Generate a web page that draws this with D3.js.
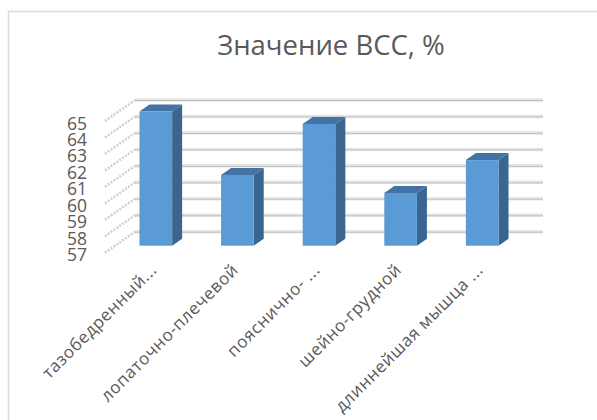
<!DOCTYPE html>
<html>
<head>
<meta charset="utf-8">
<script src="https://cdn.jsdelivr.net/npm/d3@7"></script>
<style>
  html, body { margin: 0; padding: 0; background: #fff; }
  svg { display: block; }
  text { font-family: "Open Sans", "Noto Sans", sans-serif; fill: #595959; }
</style>
</head>
<body>
<svg id="chart" width="597" height="420"></svg>
<script>
// Data
const categories = ["тазобедренный...", "лопаточно-плечевой", "пояснично- ...", "шейно-грудной", "длиннейшая мышца ..."];
const values = [65.15, 61.3, 64.4, 60.2, 62.2];
const yTicks = [57, 58, 59, 60, 61, 62, 63, 64, 65];
const title = "Значение ВСС, %";

const svg = d3.select("#chart");

// Chart frame
svg.append("rect")
  .attr("x", 8.5).attr("y", 11.5)
  .attr("width", 620).attr("height", 440)
  .attr("fill", "#fff").attr("stroke", "#d9d9d9").attr("stroke-width", 1.5);

// 3D geometry: front plane plus depth offset
const DX = 30, DY = -21;
const xLeft = 105, xRight = 513;
const y = d3.scaleLinear().domain([57, 65]).range([252.7, 121]);
const x = d3.scaleBand().domain(categories).range([xLeft, xRight])
  .paddingInner(0.6).paddingOuter(0.3);
const proj = (px, v, f) => [px + DX * f, y(v) + DY * f];

// Back wall gridlines and side wall diagonals
const grid = svg.append("g");
yTicks.forEach(v => {
  const a = proj(xLeft, v, 1), b = proj(xRight, v, 1);
  grid.append("line").attr("x1", a[0]).attr("y1", a[1]).attr("x2", b[0]).attr("y2", b[1])
    .attr("stroke", "#e6e6e6").attr("stroke-width", 3.5);
  grid.append("line").attr("x1", a[0]).attr("y1", a[1] + 0.5).attr("x2", b[0]).attr("y2", b[1] + 0.5)
    .attr("stroke", "#c2c2c2").attr("stroke-width", 1);
  const c = proj(xLeft, v, 0);
  grid.append("line").attr("x1", c[0]).attr("y1", c[1]).attr("x2", a[0]).attr("y2", a[1])
    .attr("stroke", "#cfcfcf").attr("stroke-width", 2.5).attr("stroke-dasharray", "2,1.5");
});

// Bars
const f0 = 1 / 3, f1 = 2 / 3, base = 57;
const bars = svg.append("g");
categories.forEach((c, i) => {
  const v = values[i];
  const x0 = x(c), x1 = x(c) + x.bandwidth();
  const pts = arr => arr.map(p => p.join(",")).join(" ");
  // side face
  bars.append("polygon")
    .attr("points", pts([proj(x1, v, f0), proj(x1, v, f1), proj(x1, base, f1), proj(x1, base, f0)]))
    .attr("fill", "#396590");
  // top face
  bars.append("polygon")
    .attr("points", pts([proj(x0, v, f0), proj(x1, v, f0), proj(x1, v, f1), proj(x0, v, f1)]))
    .attr("fill", "#4373a4");
  // front face
  const a = proj(x0, v, f0), b = proj(x1, base, f0);
  bars.append("rect")
    .attr("x", a[0]).attr("y", a[1]).attr("width", b[0] - a[0]).attr("height", b[1] - a[1])
    .attr("fill", "#5b9bd5");
});

// Y axis labels
svg.append("g").selectAll("text").data(yTicks).join("text")
  .attr("x", 87).attr("y", d => y(d) + 1.5)
  .attr("text-anchor", "end").attr("dominant-baseline", "central")
  .attr("font-size", 17.5).text(d => d);

// X axis labels (rotated)
svg.append("g").selectAll("text").data(categories).join("text")
  .attr("transform", d => `translate(${x(d) + x.bandwidth() / 2 + 12},${271}) rotate(-45)`)
  .attr("text-anchor", "end")
  .attr("font-size", 17).attr("letter-spacing", 0.6).text(d => d);

// Title
svg.append("text")
  .attr("x", 331).attr("y", 55)
  .attr("text-anchor", "middle")
  .attr("font-size", 27.5).text(title);
</script>
</body>
</html>
